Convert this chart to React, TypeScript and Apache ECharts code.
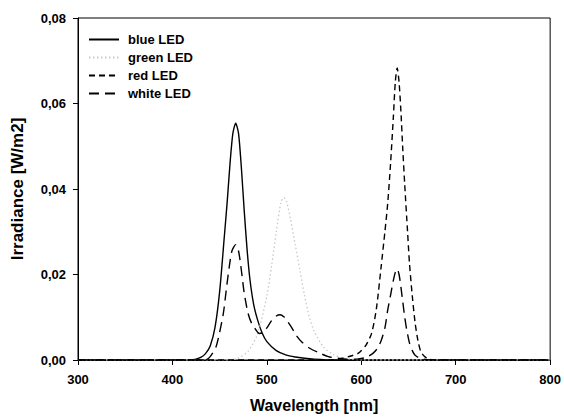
import React, { useEffect, useRef } from "react";
import * as echarts from "echarts";

const seriesNames = ["blue LED", "green LED", "red LED", "white LED"];
const xTicks = [300, 400, 500, 600, 700, 800];
const yTicks = [0, 0.02, 0.04, 0.06, 0.08];

const blueWl = [300, 420, 425, 430, 435, 440, 445, 450, 455, 458, 461, 464, 467, 470, 473, 476, 479, 482, 486, 490, 495, 500, 510, 520, 530, 540, 550, 570, 800];
const blueVal = [0, 0, 0.0002, 0.0006, 0.0015, 0.0033, 0.0075, 0.016, 0.029, 0.037, 0.046, 0.053, 0.0554, 0.053, 0.045, 0.035, 0.026, 0.019, 0.013, 0.0095, 0.0063, 0.0043, 0.0022, 0.0012, 0.0007, 0.0004, 0.0002, 0, 0];

const greenWl = [300, 460, 470, 480, 490, 500, 505, 510, 515, 518, 521, 525, 530, 535, 540, 545, 550, 560, 570, 580, 590, 600, 800];
const greenVal = [0, 0, 0.0005, 0.002, 0.006, 0.015, 0.022, 0.03, 0.037, 0.038, 0.037, 0.033, 0.027, 0.021, 0.015, 0.01, 0.0068, 0.003, 0.0013, 0.0005, 0.0002, 0, 0];

const redWl = [300, 570, 580, 590, 597, 605, 611, 616, 621, 625, 628, 631, 634, 636, 638, 640, 642, 644, 646, 649, 651, 654, 657, 660, 663, 667, 672, 680, 800];
const redVal = [0, 0, 0.0004, 0.001, 0.0016, 0.0035, 0.0063, 0.012, 0.0218, 0.03, 0.0367, 0.046, 0.057, 0.065, 0.0683, 0.065, 0.058, 0.049, 0.041, 0.03, 0.0227, 0.015, 0.0087, 0.0045, 0.002, 0.0008, 0.0002, 0, 0];

const whiteWl = [300, 435, 440, 446, 450, 454, 457, 460, 463, 467, 470, 473, 476, 480, 484, 488, 492, 496, 500, 505, 510, 514, 518, 522, 526, 531, 537, 545, 555, 565, 575, 585, 595, 605, 612, 617, 621, 625, 628, 631, 634, 636, 638, 640, 642, 644, 646, 648, 651, 654, 657, 662, 670, 680, 800];
const whiteVal = [0, 0, 0.0008, 0.003, 0.0065, 0.011, 0.0164, 0.0215, 0.0255, 0.027, 0.0255, 0.021, 0.0157, 0.011, 0.0085, 0.0072, 0.0062, 0.0064, 0.0075, 0.0092, 0.0103, 0.0106, 0.0101, 0.009, 0.0077, 0.0058, 0.0042, 0.0028, 0.0017, 0.0008, 0.0004, 0.0002, 0.0002, 0.0006, 0.0015, 0.0027, 0.0045, 0.0075, 0.0117, 0.0152, 0.0187, 0.0205, 0.0213, 0.02, 0.017, 0.0135, 0.01, 0.0072, 0.004, 0.0022, 0.0011, 0.0004, 0.0001, 0, 0];

const zip = (xs: number[], ys: number[]) => xs.map((x, i) => [x, ys[i]]);

const FONT = "'Liberation Sans', Arial, sans-serif";

export default function App() {
  const ref = useRef<HTMLDivElement>(null);
  useEffect(() => {
    if (!ref.current) return;
    const chart = echarts.init(ref.current, undefined, { renderer: "svg" });
    const common = { type: "line", symbol: "none", showSymbol: false, smooth: 0.25 };
    chart.setOption({
      animation: false,
      backgroundColor: "#fff",
      textStyle: { fontFamily: FONT },
      grid: { left: 78, right: 11, top: 18, bottom: 59, show: true, borderColor: "#000", borderWidth: 1 },
      legend: {
        data: seriesNames,
        orient: "vertical",
        left: 88,
        top: 33,
        itemWidth: 30,
        itemHeight: 10,
        itemGap: 5,
        padding: 0,
        itemStyle: { opacity: 0 },
        textStyle: { fontFamily: FONT, fontWeight: "bold", fontSize: 13, color: "#000", padding: [0, 0, 0, 4] },
      },
      xAxis: {
        type: "value",
        min: xTicks[0],
        max: xTicks[xTicks.length - 1],
        interval: 100,
        name: "Wavelength [nm]",
        nameLocation: "middle",
        nameGap: 37,
        nameTextStyle: { fontFamily: FONT, fontWeight: "bold", fontSize: 16, color: "#000" },
        axisLine: { lineStyle: { color: "#000", width: 1 } },
        axisTick: { show: true, inside: false, length: 5, lineStyle: { color: "#000" } },
        axisLabel: { fontFamily: FONT, fontWeight: "bold", fontSize: 13, color: "#000", margin: 13 },
        splitLine: { show: false },
      },
      yAxis: {
        type: "value",
        min: yTicks[0],
        max: yTicks[yTicks.length - 1],
        interval: 0.02,
        name: "Irradiance [W/m2]",
        nameLocation: "middle",
        nameGap: 52,
        nameTextStyle: { fontFamily: FONT, fontWeight: "bold", fontSize: 17, color: "#000" },
        axisLine: { show: true, lineStyle: { color: "#000", width: 1 } },
        axisTick: { show: true, inside: false, length: 5, lineStyle: { color: "#000" } },
        axisLabel: {
          fontFamily: FONT,
          fontWeight: "bold",
          fontSize: 13,
          color: "#000",
          margin: 12,
          formatter: (v: number) => v.toFixed(2).replace(".", ","),
        },
        splitLine: { show: false },
      },
      series: [
        { ...common, name: seriesNames[0], data: zip(blueWl, blueVal), lineStyle: { color: "#000", width: 1.4, type: "solid" }, itemStyle: { color: "#000" } },
        { ...common, name: seriesNames[1], data: zip(greenWl, greenVal), lineStyle: { color: "#c8c8c8", width: 1.3, type: [1.5, 2.5] }, itemStyle: { color: "#c8c8c8" } },
        { ...common, name: seriesNames[2], data: zip(redWl, redVal), lineStyle: { color: "#000", width: 1.4, type: [6, 4] }, itemStyle: { color: "#000" } },
        { ...common, name: seriesNames[3], data: zip(whiteWl, whiteVal), lineStyle: { color: "#000", width: 1.4, type: [10, 6] }, itemStyle: { color: "#000" } },
      ],
    });
    return () => chart.dispose();
  }, []);
  return <div ref={ref} style={{ position: "fixed", left: 0, top: 0, width: 564, height: 419 }} />;
}
